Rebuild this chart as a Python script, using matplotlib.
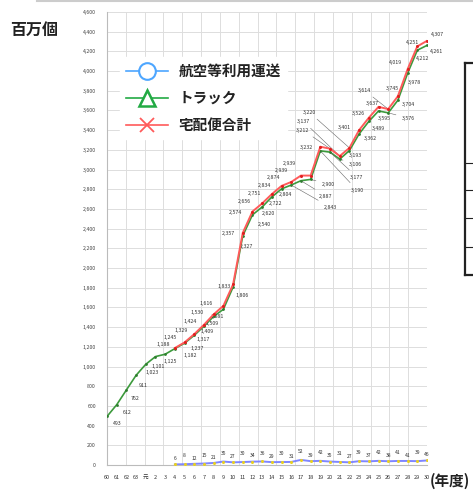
import numpy as np
import matplotlib
matplotlib.use("Agg")
import matplotlib.pyplot as plt
from matplotlib.lines import Line2D

plt.rcParams["font.family"] = ["Noto Sans CJK JP", "DejaVu Sans"]

# -----------------------------
# DATA (百万個)
# -----------------------------

years = ["60", "61", "62", "63", "元"] + [str(i) for i in range(2, 31)]

# トラック: 昭和60 - 平成30
truck = [493, 612, 762, 911, 1023, 1101, 1125,
         1182, 1237, 1317, 1409, 1509, 1581, 1806, 2327, 2540, 2620,
         2722, 2804, 2843, 2887, 2900, 3190, 3177, 3106, 3193, 3362,
         3489, 3595, 3576, 3704, 3978, 4212, 4261]

# 宅配便合計: 平成4 - 平成30
total = [1188, 1245, 1329, 1424, 1530, 1616, 1833, 2357, 2574, 2656,
         2751, 2834, 2874, 2939, 2939, 3232, 3212, 3137, 3220, 3401,
         3526, 3637, 3614, 3745, 4019, 4251, 4307]

# 航空等利用運送: 平成4 - 平成30
air = [6, 8, 12, 15, 21, 35, 27, 30, 34, 36, 29, 30, 31, 52, 39, 42,
       35, 31, 27, 39, 37, 42, 38, 41, 41, 39, 46]

x_all = np.arange(len(years))
x_h4 = x_all[len(years) - len(total):]

# -----------------------------
# LABEL LAYOUT (figure pixels, label centre, leader line flag)
# -----------------------------

total_lab = [(163, 344), (170, 337), (181, 330), (190, 321), (197, 312),
             (206, 303), (224, 286), (228, 233), (235, 212), (244, 201),
             (254, 193), (264, 185), (273, 177), (281, 170), (289, 163),
             (306, 147), (303, 130, 1), (303, 121, 1), (309, 112, 1),
             (344, 127), (358, 113), (372, 103), (364, 90, 1), (392, 88),
             (395, 62), (413, 42), (437, 34)]

truck_lab = [(117, 423), (127, 412), (135, 398), (143, 385), (152, 372),
             (158, 366), (170, 361), (190, 355), (197, 348), (203, 339),
             (207, 331), (212, 323), (217, 316), (242, 295), (246, 246),
             (264, 224), (268, 213), (276, 203), (285, 194),
             (330, 207, 1), (326, 196, 1), (328, 184, 1),
             (357, 190, 1), (357, 177, 1), (355, 164, 1), (355, 155),
             (370, 138), (378, 128), (384, 118), (408, 118, 1), (408, 104),
             (414, 82), (423, 58), (437, 51)]

# -----------------------------
# FIGURE
# -----------------------------

W, H = 473, 490
AX_L, AX_R, AX_B, AX_T = 107, 427, 465, 12
YMAX = 4600

fig = plt.figure(figsize=(W / 100, H / 100), dpi=100)
ax = fig.add_axes([AX_L / W, 1 - AX_B / H, (AX_R - AX_L) / W, (AX_B - AX_T) / H])

ax.set_xlim(0, len(years) - 1)
ax.set_ylim(0, YMAX)


def px_to_data(px, py):
    xd = (px - AX_L) / (AX_R - AX_L) * (len(years) - 1)
    yd = (AX_B - py) / (AX_B - AX_T) * YMAX
    return xd, yd


ax.set_yticks(np.arange(0, YMAX + 1, 200))
ax.set_yticklabels([f"{v:,}" for v in range(0, YMAX + 1, 200)],
                   fontsize=3.8, color="#444444")
ax.set_xticks(x_all)
ax.set_xticklabels(years, fontsize=4, color="#333333")
ax.tick_params(axis="y", length=0, pad=8)
ax.tick_params(axis="x", length=0, pad=7)

ax.grid(axis="y", color="#dddddd", linewidth=0.7)
for gx in np.linspace(0, len(years) - 1, 18):
    ax.axvline(gx, color="#dddddd", linewidth=0.7, zorder=0)

for side in ["top", "right"]:
    ax.spines[side].set_visible(False)
ax.spines["left"].set_color("#bbbbbb")
ax.spines["bottom"].set_color("#bbbbbb")

# lines
ax.plot(x_all, truck, color="#3c9a3c", linewidth=1.2,
        marker="o", markersize=2, markerfacecolor="#2e7d2e",
        markeredgewidth=0, zorder=3)
ax.plot(x_h4, total, color="#ff5a5a", linewidth=1.4,
        marker="o", markersize=2.2, markerfacecolor="#e02020",
        markeredgewidth=0, zorder=4)
ax.plot(x_h4, air, color="#7f86ff", linewidth=1.4,
        marker="o", markersize=2.2, markerfacecolor="#e8d020",
        markeredgewidth=0, zorder=4)

# -----------------------------
# DATA LABELS
# -----------------------------

lab_kw = dict(fontsize=3.8, color="#333333", ha="center", va="center")
lead = dict(arrowstyle="-", color="#666666", lw=0.4, shrinkA=2, shrinkB=1)


def put_label(text, xy, spec):
    pos = px_to_data(spec[0], spec[1])
    arrow = lead if len(spec) > 2 else None
    ax.annotate(text, xy, xytext=pos, textcoords="data",
                arrowprops=arrow, **lab_kw)


for i, xi in enumerate(x_all):
    put_label(f"{truck[i]:,}", (xi, truck[i]), truck_lab[i])

for j, xi in enumerate(x_h4):
    put_label(f"{total[j]:,}", (xi, total[j]), total_lab[j])
    ax.annotate(f"{air[j]}", (xi, air[j]), xytext=(0, 3 + 2 * (j % 2)),
                textcoords="offset points", fontsize=3.6, color="#333333",
                ha="center")

# -----------------------------
# LEGEND
# -----------------------------

handles = [
    Line2D([], [], color="#4da6ff", marker="o", markersize=12,
           markerfacecolor="white", markeredgewidth=1.5, linewidth=1.2),
    Line2D([], [], color="#22aa44", marker="^", markersize=12,
           markerfacecolor="white", markeredgewidth=1.8, linewidth=1.2),
    Line2D([], [], color="#ff5a5a", marker="x", markersize=10,
           markeredgewidth=1.3, linewidth=1.2),
]
labels = ["航空等利用運送", "トラック", "宅配便合計"]
leg = fig.legend(handles, labels, loc="upper left",
                 bbox_to_anchor=(113 / W, 1 - 50 / H), fontsize=10.5,
                 handlelength=2.9, handletextpad=0.7, labelspacing=0.75,
                 frameon=True, fancybox=False, edgecolor="white",
                 facecolor="white", framealpha=1, borderpad=0.4)
for t in leg.get_texts():
    t.set_fontweight("bold")
    t.set_color("#222222")

# -----------------------------
# TEXT AND FRAME PIECES
# -----------------------------

fig.text(10 / W, 1 - 30 / H, "百万個", fontsize=11.5, fontweight="bold",
         color="#222222", va="center")
fig.text(430 / W, 1 - 481 / H, "(年度)", fontsize=10.5, fontweight="bold",
         color="#222222", va="center")

fig.add_artist(Line2D([37 / W, 1], [1 - 1.5 / H, 1 - 1.5 / H],
                      transform=fig.transFigure, color="#cccccc", linewidth=1.5))

bx = 465 / W
for yy in [63, 163, 190, 218, 247, 275]:
    fig.add_artist(Line2D([bx, 1], [1 - yy / H, 1 - yy / H],
                          transform=fig.transFigure, color="#222222",
                          linewidth=1.6 if yy in (63, 275) else 0.8))
fig.add_artist(Line2D([bx, bx], [1 - 63 / H, 1 - 275 / H],
                      transform=fig.transFigure, color="#222222", linewidth=1.6))

plt.savefig("out.png", dpi=100)
plt.close()
